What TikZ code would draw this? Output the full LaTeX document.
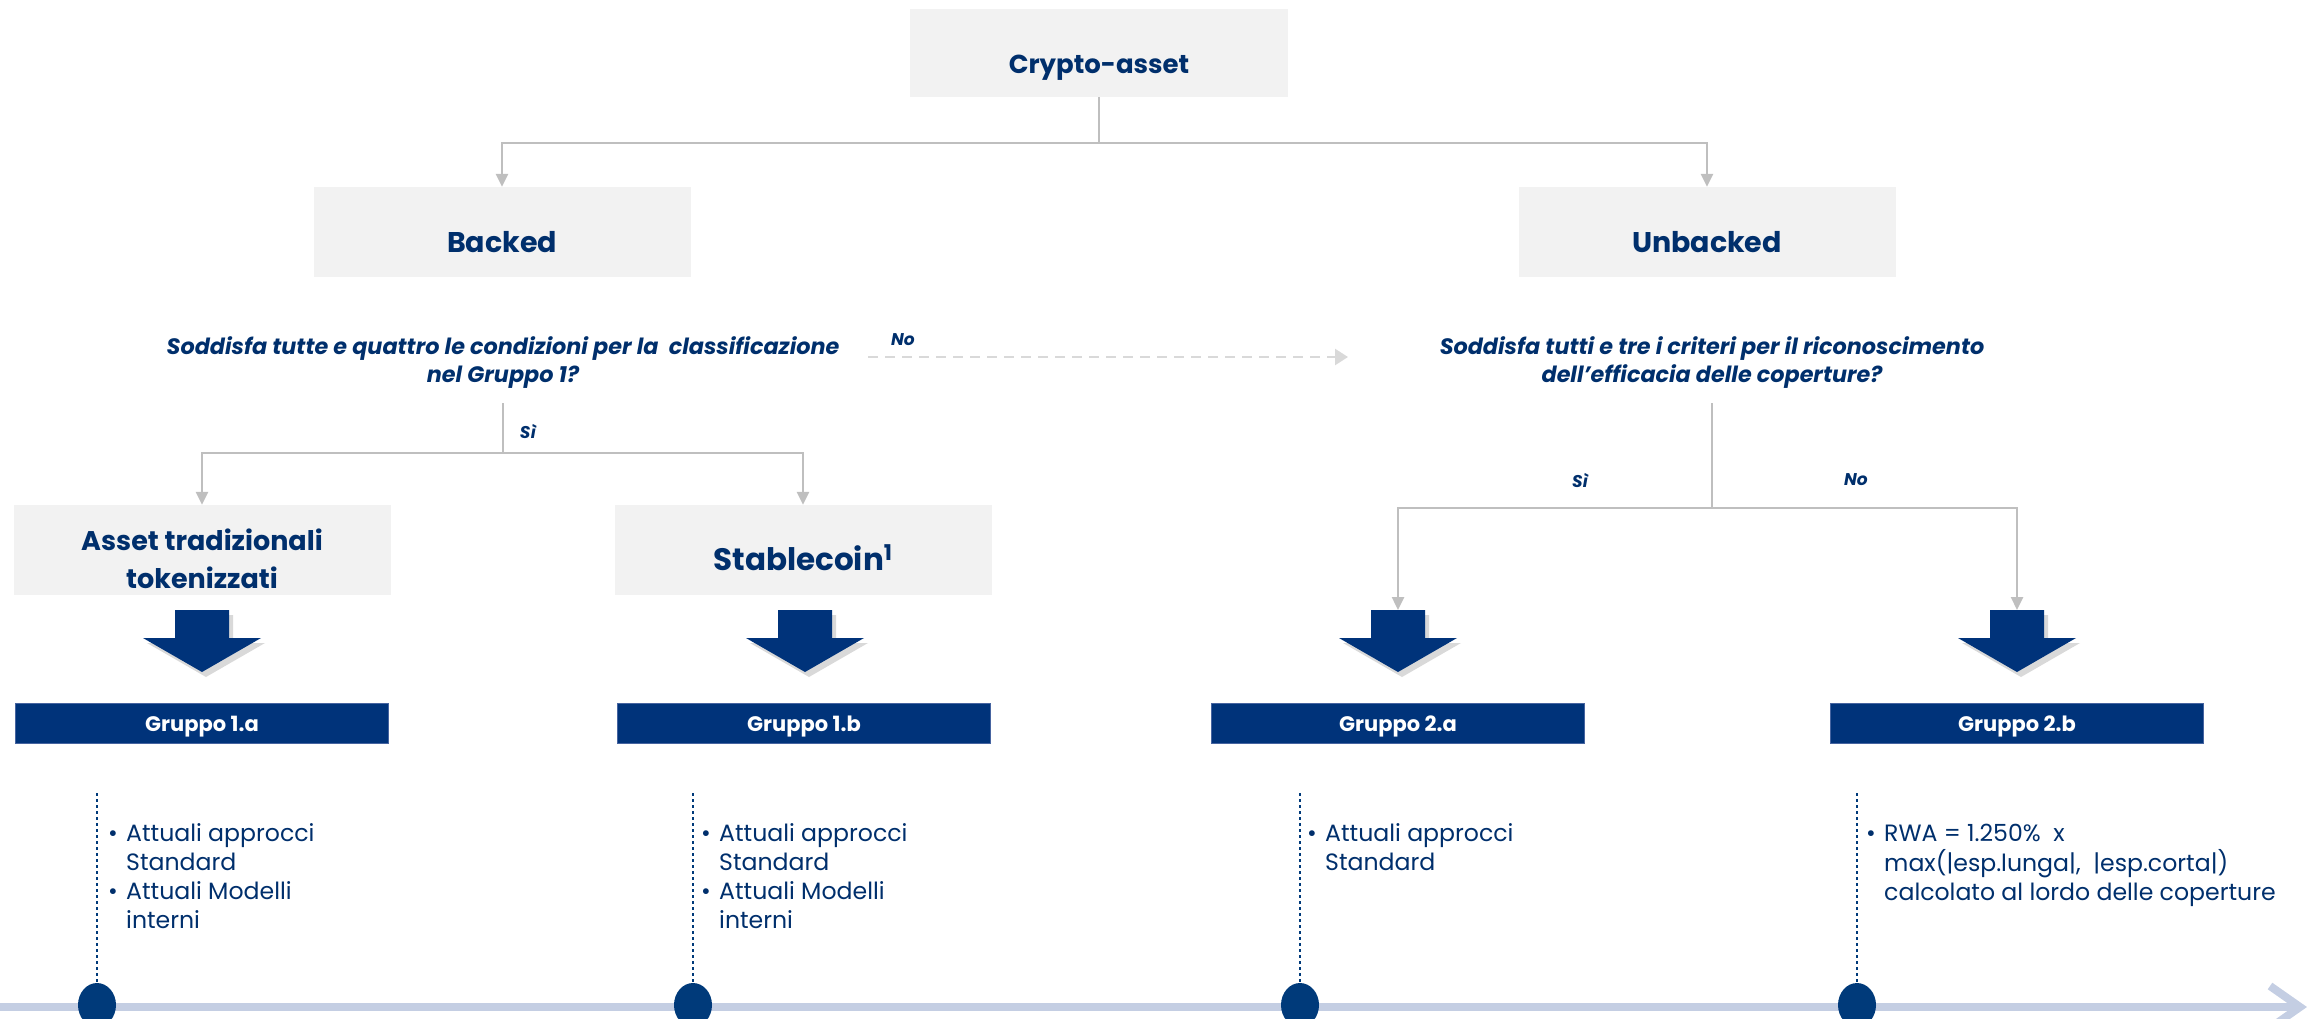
\documentclass[tikz,border=0pt]{standalone}
\usepackage{fontspec}
\setmainfont{Poppins}
\usetikzlibrary{shadows,arrows.meta,shapes.geometric}
\definecolor{navy}{HTML}{00337A}
\definecolor{txtnavy}{HTML}{002F6C}
\definecolor{boxgray}{HTML}{F2F2F2}
\definecolor{conngray}{HTML}{BFBFBF}
\definecolor{dashgray}{HTML}{D9D9D9}
\definecolor{barblue}{HTML}{C4CEE3}
\definecolor{dotnavy}{HTML}{003A7A}
\begin{document}
\begin{tikzpicture}[x=1pt,y=-1pt,
  graybox/.style={fill=boxgray, inner sep=0pt, minimum width=377, minimum height=90, text=txtnavy, align=center, font=\fontsize{28.5}{34}\selectfont\bfseries},
  oneline/.style={text height=40pt, text depth=0pt},
  question/.style={inner sep=0pt, text=txtnavy, align=center, font=\fontsize{22.3}{28}\selectfont\bfseries\itshape},
  yesno/.style={inner sep=0pt, text=txtnavy, font=\fontsize{17}{20}\selectfont\bfseries\itshape},
  conn/.style={draw=conngray, line width=2.5pt, -{Triangle[length=13pt,width=12pt]}},
  dashconn/.style={draw=dashgray, line width=2.5pt, dash pattern=on 10pt off 7pt, -{Triangle[length=13pt,width=16pt,fill=dashgray]}},
  gruppo/.style={fill=navy, draw={rgb,255:red,70;green,100;blue,160}, line width=1pt, minimum width=373, minimum height=40, inner sep=0pt, text=white, text height=16pt, text depth=0pt, font=\fontsize{21}{24}\selectfont\bfseries},
  blockarr/.pic={\fill[navy, drop shadow={opacity=0.3, shadow xshift=4pt, shadow yshift=-5pt}] (-27,0) -- (27,0) -- (27,28) -- (59,28) -- (0,62) -- (-59,28) -- (-27,28) -- cycle;},
  dotline/.style={draw=dotnavy, line width=2.5pt, dash pattern=on 2.5pt off 3.5pt},
  dotnode/.style={ellipse, fill=dotnavy, minimum width=38, minimum height=44, inner sep=0pt},
  bar/.style={draw=barblue, line width=8pt},
  bullets/.style={inner sep=0pt, anchor=base west, text=txtnavy, align=left, font=\fontsize{23.6}{29}\selectfont}
]
\useasboundingbox (0,0) rectangle (2308,1018);

% top level
\node[graybox, oneline, minimum width=378, minimum height=88, font=\fontsize{26}{34}\selectfont\bfseries] (crypto) at (1099,53) {Crypto-asset};
\node[graybox, oneline] (backed) at (502,232) {Backed};
\node[graybox, oneline] (unbacked) at (1707,232) {Unbacked};

\draw[conn] (crypto.south) -- ++(0,46) -| (backed.north);
\draw[conn] (crypto.south) -- ++(0,46) -| (unbacked.north);

% questions
\node[question] (q1) at (503,363) {Soddisfa tutte e quattro le condizioni per la\ \ classificazione\\nel Gruppo 1?};
\node[question] (q2) at (1712,363) {Soddisfa tutti e tre i criteri per il riconoscimento\\dell’efficacia delle coperture?};

\coordinate (dashstart) at (868,357);
\coordinate (dashend) at (1348,357);
\draw[dashconn] (dashstart) -- (dashend);
\node[yesno] (no1) at (903,340) {No};

% level 2 boxes
\node[graybox, font=\fontsize{27}{38}\selectfont\bfseries] (asset) at (202,550) {\rule{0pt}{40pt}Asset tradizionali\\tokenizzati};
\node[graybox, oneline, font=\fontsize{31}{38}\selectfont\bfseries] (stable) at (803,550) {Stablecoin\textsuperscript{1}};

\coordinate (q1out) at (503,403);
\draw[conn] (q1out) -- ++(0,50) -| (asset.north);
\draw[conn] (q1out) -- ++(0,50) -| (stable.north);
\node[yesno] (si1) at (528,431) {Sì};

% block arrows
\pic at (202,610) {blockarr};
\pic at (805,610) {blockarr};
\pic at (1398,610) {blockarr};
\pic at (2017,610) {blockarr};
\coordinate (ba3) at (1398,610);
\coordinate (ba4) at (2017,610);

\coordinate (q2out) at (1712,403);
\draw[conn] (q2out) -- ++(0,105) -| (ba3);
\draw[conn] (q2out) -- ++(0,105) -| (ba4);
\node[yesno] (si2) at (1580,480) {Sì};
\node[yesno] (no2) at (1856,480) {No};

% gruppo boxes
\node[gruppo] (g1a) at (202,723) {Gruppo 1.a};
\node[gruppo] (g1b) at (804,723) {Gruppo 1.b};
\node[gruppo] (g2a) at (1398,723) {Gruppo 2.a};
\node[gruppo] (g2b) at (2017,723) {Gruppo 2.b};

% timeline bar
\coordinate (barL) at (0,1007);
\coordinate (barR) at (2300,1007);
\draw[bar] (barL) -- (barR);
\draw[bar, line join=miter] (barR) ++(-30,-21) -- (barR) -- ++(-30,21);

% dots and dotted lines
\node[dotnode] (c1) at (97,1005) {};
\node[dotnode] (c2) at (693,1005) {};
\node[dotnode] (c3) at (1300,1005) {};
\node[dotnode] (c4) at (1857,1005) {};
\coordinate (d1) at (97,793);
\coordinate (d2) at (693,793);
\coordinate (d3) at (1300,793);
\coordinate (d4) at (1857,793);
\draw[dotline] (d1) -- (c1.north);
\draw[dotline] (d2) -- (c2.north);
\draw[dotline] (d3) -- (c3.north);
\draw[dotline] (d4) -- (c4.north);

% bullet texts
\node[bullets] (t1) at (108,841) {\begin{tabular}[t]{@{}l@{}l@{}}\makebox[18pt][l]{\textbullet}&Attuali approcci\\&Standard\\\makebox[18pt][l]{\textbullet}&Attuali Modelli\\&interni\end{tabular}};
\node[bullets] (t2) at (701,841) {\begin{tabular}[t]{@{}l@{}l@{}}\makebox[18pt][l]{\textbullet}&Attuali approcci\\&Standard\\\makebox[18pt][l]{\textbullet}&Attuali Modelli\\&interni\end{tabular}};
\node[bullets] (t3) at (1307,841) {\begin{tabular}[t]{@{}l@{}l@{}}\makebox[18pt][l]{\textbullet}&Attuali approcci\\&Standard\end{tabular}};
\node[bullets] (t4) at (1866,841) {\begin{tabular}[t]{@{}l@{}l@{}}\makebox[18pt][l]{\textbullet}&RWA = 1.250\%\ \ x\\&max(|esp.lunga|,\ \ |esp.corta|)\\&calcolato al lordo delle coperture\end{tabular}};
\end{tikzpicture}
\end{document}
